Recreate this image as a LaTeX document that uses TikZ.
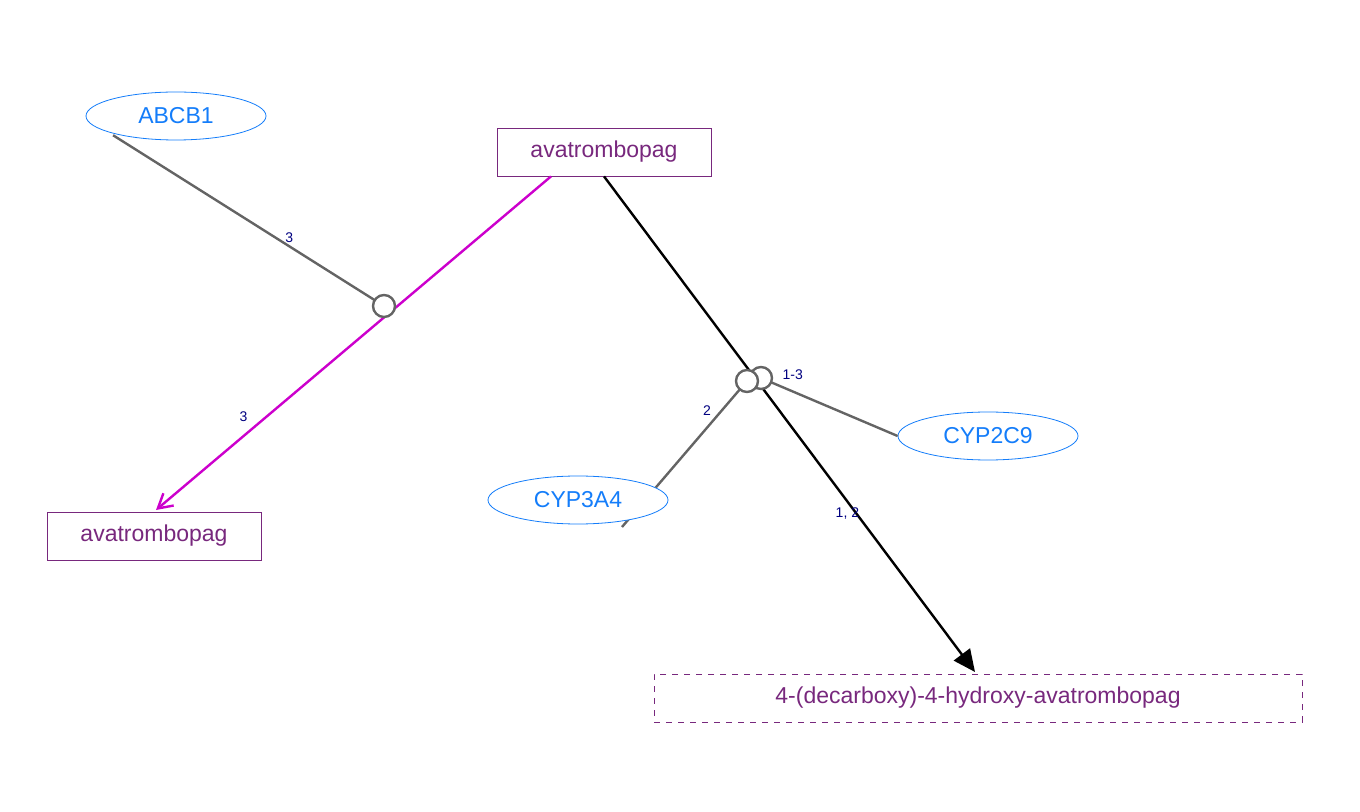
\documentclass[tikz,border=0pt]{standalone}
\usepackage{fontspec}
\setmainfont{Liberation Sans}
\usetikzlibrary{shapes.geometric,arrows.meta}
\definecolor{genecol}{RGB}{20,125,250}
\definecolor{chemcol}{RGB}{120,40,125}
\definecolor{magcol}{RGB}{204,0,204}
\definecolor{grycol}{RGB}{100,100,100}
\definecolor{lblcol}{RGB}{0,0,128}
\begin{document}
\begin{tikzpicture}[
		x=0.5pt, y=-0.5pt,
		gene/.style={ellipse, draw=genecol, text=genecol, fill=white, minimum width=90pt, minimum height=24pt, inner sep=0pt, font=\fontsize{11.5}{13}\selectfont},
		chem/.style={rectangle, draw=chemcol, text=chemcol, minimum height=24pt, inner sep=0pt, font=\fontsize{11.5}{13}\selectfont},
		hub/.style={circle, draw=grycol, fill=white, line width=1.2pt, minimum size=11pt, inner sep=0pt},
		lbl/.style={text=lblcol, font=\fontsize{7}{8}\selectfont, inner sep=1pt}
	]
  \useasboundingbox (0,0) rectangle (1360,812);
  \coordinate (hubA) at (384,306);
  \coordinate (hubB) at (747,381);
  \coordinate (hubC) at (761,378);
  \coordinate (cypEnd) at (622,527);
  \draw [grycol, line width=1.2pt] (cypEnd) -- (hubB) node [lbl, pos=0.8, left=4pt] {2};
  \node (abcb1) [gene] at (176,116) {ABCB1};
  \node (avaTop) [chem, minimum width=107pt] at (604,152) {avatrombopag};
  \node (avaLeft) [chem, minimum width=107pt] at (154,536) {avatrombopag};
  \node (cyp3a4) [gene] at (578,500) {CYP3A4};
  \node (cyp2c9) [gene] at (988,436) {CYP2C9};
  \node (product) [chem, dashed, minimum width=324pt] at (978,698) {4-(decarboxy)-4-hydroxy-avatrombopag};
  % connectors
  \draw [grycol, line width=1.2pt] (abcb1.south west) ++(1,2) -- (hubA) node [lbl, pos=0.65, above] {3};
  \draw [magcol, line width=1.2pt, -{Straight Barb[length=7pt,width=8pt]}] (avaTop.south) ++(-53,0) -- (156,510) node [lbl, pos=0.72, left=8pt] {3};
  \draw [black, line width=1.2pt, -{Triangle[length=11pt,width=10pt]}] (avaTop.south) -- (975,672) node [lbl, pos=0.68, left=-3pt] {1, 2};
  \draw [grycol, line width=1.2pt] (cyp2c9.west) -- (hubC) node [lbl, pos=0.88, above right=1pt] {1-3};
  \node (hubNodeA) [hub] at (hubA) {};
  \node (hubNodeC) [hub] at (hubC) {};
  \node (hubNodeB) [hub] at (hubB) {};
\end{tikzpicture}
\end{document}
